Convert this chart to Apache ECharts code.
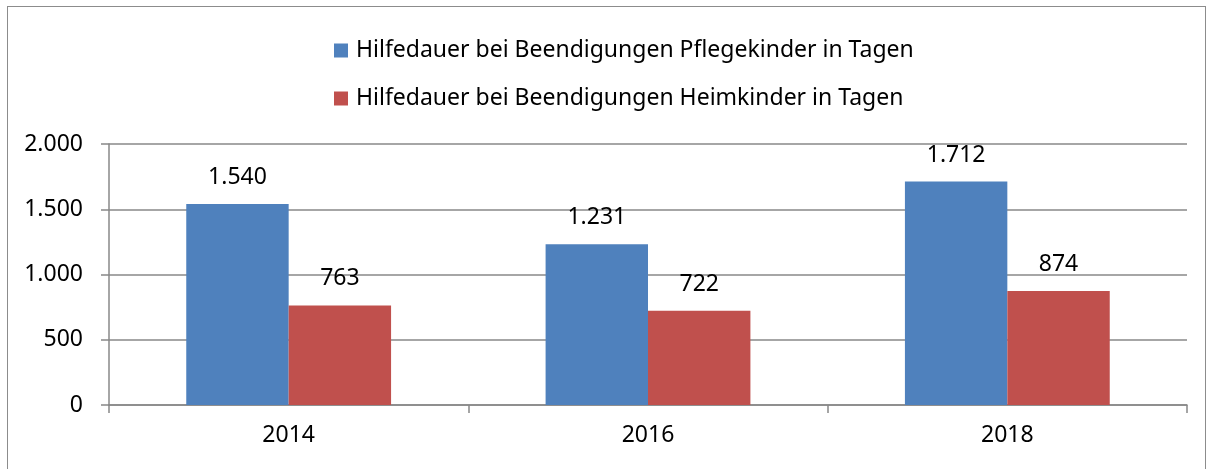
<!DOCTYPE html>
<html>
<head>
<meta charset="utf-8">
<script src="https://cdn.jsdelivr.net/npm/echarts@6/dist/echarts.min.js"></script>
<style>
  html, body { margin: 0; padding: 0; background: #fff; }
  #frame { position: absolute; left: 7px; top: 6px; width: 1199px; height: 470px; border: 1.5px solid #8c8c8c; box-sizing: border-box; }
  #chart { position: absolute; left: 0; top: 0; width: 1213px; height: 469px; }
</style>
</head>
<body>
<div id="frame"></div>
<div id="chart"></div>
<script>
const years = ['2014', '2016', '2018']
const pflegekinder = [1540, 1231, 1712]
const heimkinder = [763, 722, 874]
const seriesNames = [
  'Hilfedauer bei Beendigungen Pflegekinder in Tagen',
  'Hilfedauer bei Beendigungen Heimkinder in Tagen'
]

const fontFamily = '"Noto Sans", "Open Sans", sans-serif'
// deutsches Zahlenformat mit Punkt als Tausendertrenner
const fmt = v => String(v).replace(/\B(?=(\d{3})+(?!\d))/g, '.')

const chart = echarts.init(document.getElementById('chart'))

chart.setOption({
  animation: false,
  textStyle: { fontFamily: fontFamily, color: '#000' },
  legend: {
    orient: 'vertical',
    left: 329,
    top: 34,
    itemWidth: 14,
    itemHeight: 14,
    itemGap: 25,
    icon: 'rect',
    textStyle: { fontSize: 23, color: '#000', fontFamily: fontFamily, padding: [0, 0, 0, 3] },
    data: seriesNames
  },
  grid: {
    left: 109,
    right: 26,
    top: 144,
    bottom: 64
  },
  xAxis: {
    type: 'category',
    data: years,
    axisLine: { lineStyle: { color: '#888', width: 1.5 } },
    axisTick: { show: true, length: 8, lineStyle: { color: '#888', width: 1.5 } },
    axisLabel: { fontSize: 23, color: '#000', margin: 19 }
  },
  yAxis: {
    type: 'value',
    min: 0,
    max: 2000,
    interval: 500,
    axisLine: { show: true, lineStyle: { color: '#888', width: 1.5 } },
    axisTick: { show: true, length: 8, lineStyle: { color: '#888', width: 1.5 } },
    splitLine: { lineStyle: { color: '#888', width: 1.5 } },
    axisLabel: { fontSize: 23, color: '#000', margin: 26, formatter: fmt }
  },
  series: [
    {
      name: seriesNames[0],
      type: 'bar',
      data: pflegekinder,
      barGap: '0%',
      barCategoryGap: '43%',
      itemStyle: { color: '#4F81BD' },
      label: {
        show: true,
        position: 'top',
        distance: 15,
        fontSize: 23,
        color: '#000',
        formatter: p => fmt(p.value)
      }
    },
    {
      name: seriesNames[1],
      type: 'bar',
      data: heimkinder,
      itemStyle: { color: '#C0504D' },
      label: {
        show: true,
        position: 'top',
        distance: 15,
        fontSize: 23,
        color: '#000',
        formatter: p => fmt(p.value)
      }
    }
  ]
})
</script>
</body>
</html>
